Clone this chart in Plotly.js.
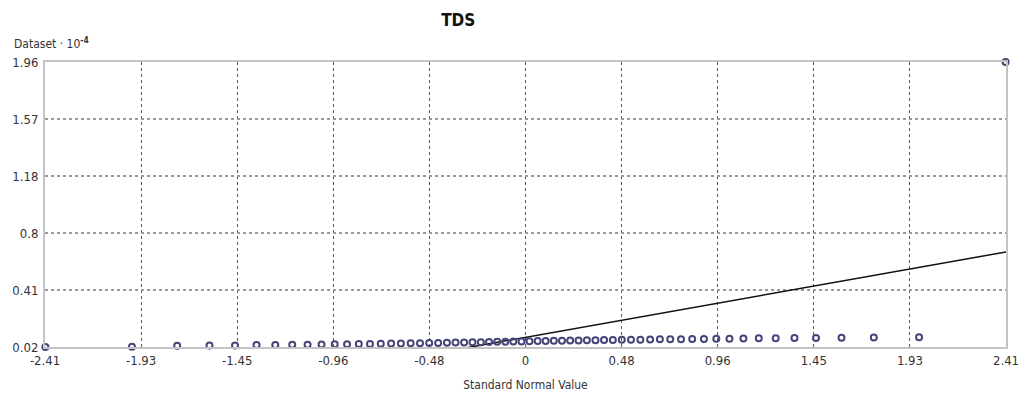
<!DOCTYPE html>
<html>
<head>
<meta charset="utf-8">
<script src="https://cdn.plot.ly/plotly-3.0.1.min.js"></script>
<style>html,body{margin:0;padding:0;background:#fff;}#chart{width:1029px;height:405px;}</style>
</head>
<body>
<div id="chart"></div>
<script>
// Standard normal quantiles (x) of the sorted dataset
const normalValues = [
  -2.408,-1.974,-1.747,-1.585,-1.457,-1.349,-1.255,-1.170,-1.093,-1.023,
  -0.957,-0.895,-0.836,-0.780,-0.726,-0.674,-0.625,-0.576,-0.529,-0.483,
  -0.438,-0.394,-0.351,-0.308,-0.266,-0.224,-0.183,-0.142,-0.101,-0.061,-0.020,
   0.020, 0.061, 0.101, 0.142, 0.183, 0.224, 0.266, 0.308, 0.351, 0.394,
   0.438, 0.483, 0.529, 0.576, 0.625, 0.674, 0.726, 0.780, 0.836, 0.895,
   0.957, 1.023, 1.093, 1.170, 1.255, 1.349, 1.457, 1.585, 1.747, 1.974, 2.408
];
// Dataset values (×10^-4), sorted
const datasetValues = [
  0.020,0.022,0.028,0.030,0.031,0.033,0.034,0.035,0.036,0.037,
  0.038,0.039,0.040,0.041,0.042,0.043,0.044,0.045,0.046,0.047,
  0.048,0.049,0.050,0.051,0.052,0.053,0.054,0.055,0.056,0.057,0.058,
  0.059,0.060,0.061,0.062,0.063,0.064,0.065,0.066,0.066,0.067,
  0.068,0.069,0.069,0.070,0.071,0.072,0.072,0.073,0.074,0.075,
  0.076,0.077,0.078,0.079,0.080,0.081,0.082,0.083,0.084,0.086,1.96
];
// Reference line (mean + sd * z)
const refLineX = [-2.41, 2.41];
const refLineY = [-0.495, 0.667];

const xTickVals = [-2.41,-1.928,-1.446,-0.964,-0.482,0,0.482,0.964,1.446,1.928,2.41];
const xTickText = ["-2.41","-1.93","-1.45","-0.96","-0.48","0","0.48","0.96","1.45","1.93","2.41"];
const yTickVals = [0.02,0.408,0.796,1.184,1.572,1.96];
const yTickText = ["0.02","0.41","0.8","1.18","1.57","1.96"];

const font = "'Liberation Sans Narrow','DejaVu Sans Condensed','Liberation Sans',sans-serif";

const traces = [
  {
    x: refLineX, y: refLineY, type: 'scatter', mode: 'lines',
    line: {color: '#111', width: 1.5}, hoverinfo: 'skip', showlegend: false
  },
  {
    x: normalValues, y: datasetValues, type: 'scatter', mode: 'markers',
    marker: {symbol: 'circle-open', size: 6, color: '#46457a', line: {width: 2, color: '#46457a'}},
    cliponaxis: false, showlegend: false
  }
];

const layout = {
  width: 1029, height: 405,
  margin: {l: 45, r: 23, t: 62, b: 58},
  paper_bgcolor: '#fff', plot_bgcolor: '#fff',
  title: {
    text: '<b>TDS</b>', x: 0.43, xanchor: 'center', xref: 'paper',
    y: 0.95, yref: 'container', yanchor: 'middle',
    font: {family: font, size: 17, color: '#111'}
  },
  xaxis: {
    range: [-2.41, 2.41], tickmode: 'array', tickvals: xTickVals, ticktext: xTickText,
    showgrid: true, gridcolor: '#555', griddash: 'dot', gridwidth: 1,
    zeroline: false, showline: true, linecolor: '#c4c4c4', linewidth: 2, mirror: true,
    ticks: '', tickfont: {family: font, size: 13, color: '#333'},
    title: {text: 'Standard Normal Value', standoff: 14, font: {family: font, size: 12, color: '#333'}}
  },
  yaxis: {
    range: [0.02, 1.96], tickmode: 'array', tickvals: yTickVals, ticktext: yTickText,
    showgrid: true, gridcolor: '#9a9a9a', griddash: 'dot', gridwidth: 2,
    zeroline: false, showline: true, linecolor: '#c4c4c4', linewidth: 2, mirror: true,
    ticks: '', ticklabelstandoff: 2, tickfont: {family: font, size: 13, color: '#333'}
  },
  annotations: [
    {
      text: 'Dataset · 10<sup><b>-4</b></sup>', xref: 'paper', yref: 'paper',
      x: -0.034, y: 1.0, xanchor: 'left', yanchor: 'bottom', yshift: 9,
      showarrow: false, font: {family: font, size: 12, color: '#333'}
    }
  ]
};

Plotly.newPlot('chart', traces, layout, {displayModeBar: false, staticPlot: true});
</script>
</body>
</html>
